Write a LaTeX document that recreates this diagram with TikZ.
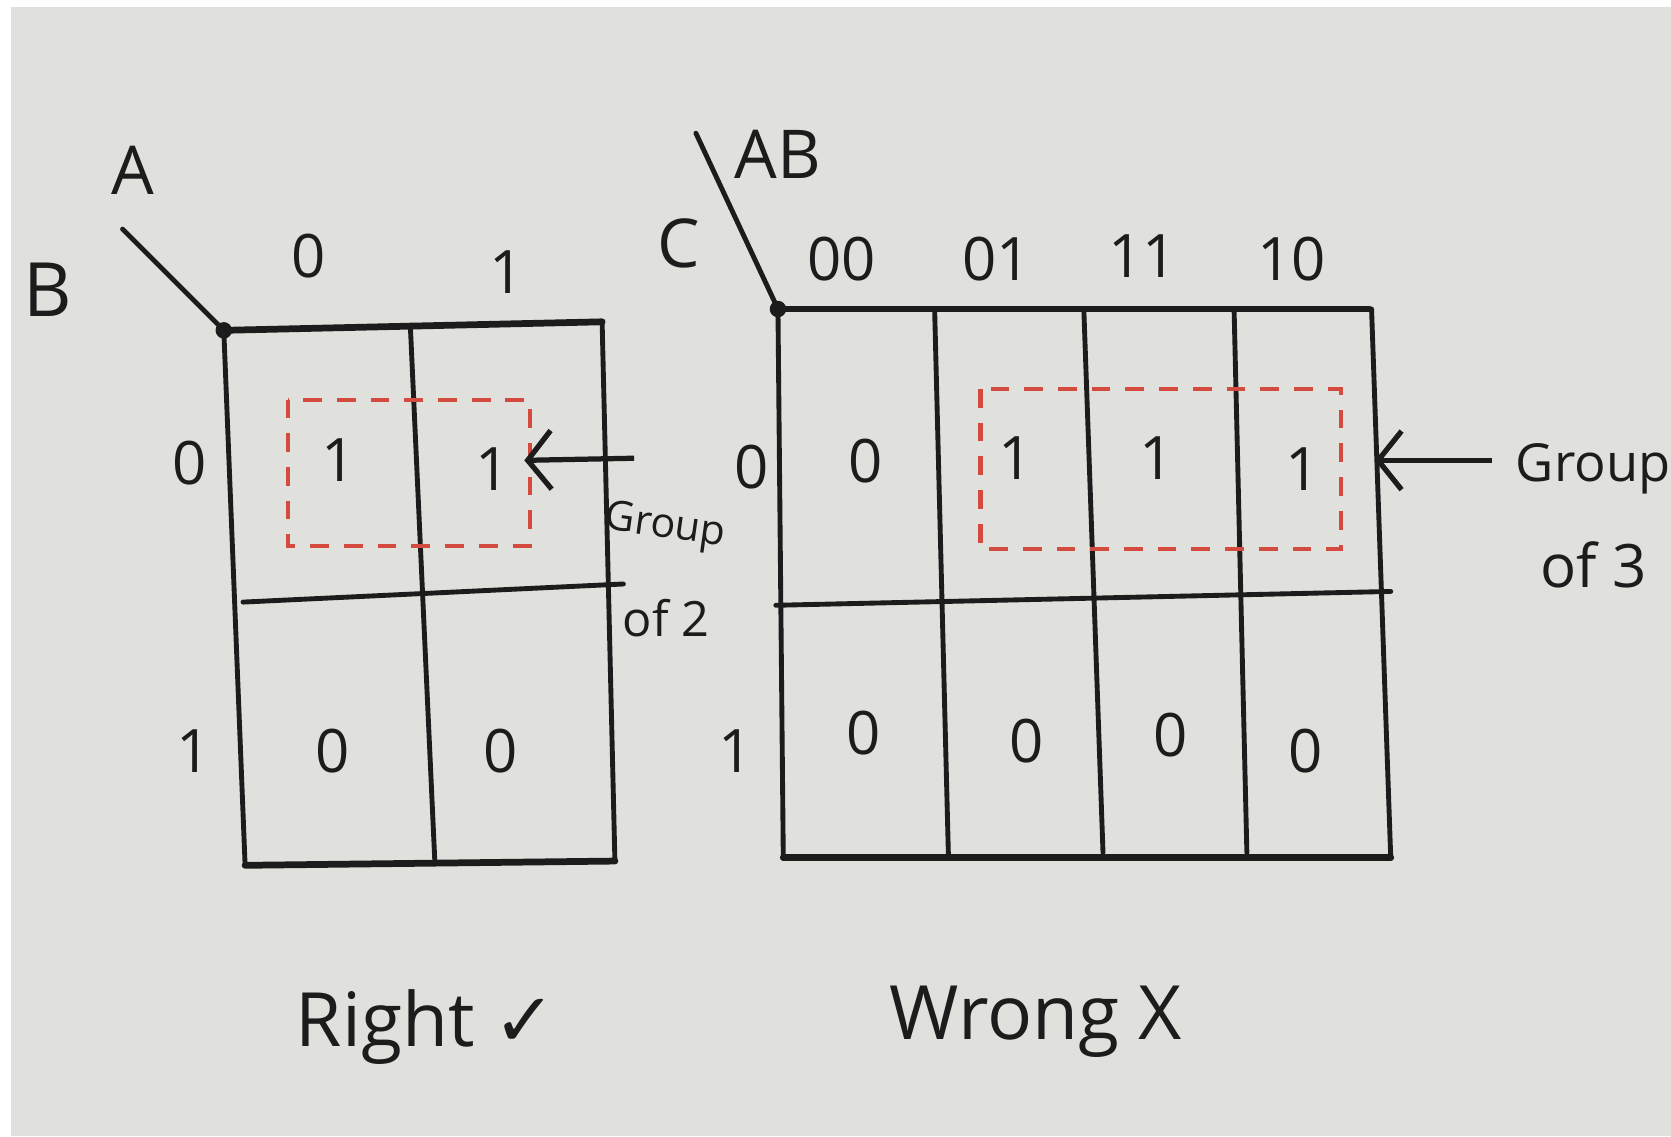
\documentclass[tikz,border=0pt]{standalone}
\usepackage{fontspec}
\setmainfont{Open Sans}
\newfontfamily\symbolfont{DejaVu Sans}
\usetikzlibrary{arrows.meta}
\definecolor{paper}{RGB}{224,224,220}
\definecolor{pen}{RGB}{28,28,28}
\definecolor{redpen}{RGB}{212,74,62}

\begin{document}
\begin{tikzpicture}[
  rule/.style={draw=pen,line width=1.3pt,line cap=round},
  frame/.style={draw=pen,line width=1.8pt,line cap=round},
  digit/.style={text=pen,font=\fontsize{16}{18}\selectfont},
  var/.style={text=pen,font=\fontsize{18}{20}\selectfont},
  note/.style={text=pen,font=\fontsize{14}{16}\selectfont},
  caption/.style={text=pen,font=\fontsize{20}{24}\selectfont,anchor=base},
  grp/.style={draw=redpen,line width=1.1pt,dash pattern=on 5pt off 4pt},
  pointer/.style={draw=pen,line width=1.4pt,-{Straight Barb[length=2.2mm,width=5.5mm]}}
]
\useasboundingbox (0,0) rectangle (15.68,10.66);
\fill[white] (0,0) rectangle (15.68,10.66);
\fill[paper] (0.10,0) rectangle (15.68,10.59);

% 2-variable map
\coordinate (lcorner) at (2.10,7.56);
\coordinate (lslash) at (1.15,8.51);
\draw[rule] (lslash) -- (lcorner);
\fill[pen] (lcorner) circle (2.2pt);
\draw[frame] (lcorner) -- (5.65,7.64);
\draw[frame] (2.30,2.54) -- (5.77,2.58);
\draw[rule] (lcorner) -- (2.30,2.54);
\draw[rule] (3.85,7.61) -- (4.08,2.58);
\draw[rule] (5.65,7.64) -- (5.77,2.58);
\draw[rule] (2.28,5.01) -- (5.85,5.18);
  \node[var] (la) at (1.25,9.06) {A};
  \node[var,font=\fontsize{20}{22}\selectfont] (lb) at (0.45,7.94) {B};
  \node[digit] (lc0) at (2.90,8.26) {0};
  \node[digit] (lc1) at (4.75,8.11) {1};
  \node[digit] (lr0) at (1.78,6.31) {0};
  \node[digit] (lr1) at (1.82,3.61) {1};
  \node[digit] (l00) at (3.18,6.34) {1};
  \node[digit] (l01) at (4.62,6.26) {1};
  \node[digit] (l10) at (3.12,3.61) {0};
  \node[digit] (l11) at (4.70,3.61) {0};
  \draw[grp] (2.70,6.91) rectangle (4.97,5.54);
  \coordinate (lhead) at (4.92,6.34);
  \coordinate (ltail) at (5.95,6.36);
  \draw[pointer] (ltail) -- (lhead);
  \node[note,font=\fontsize{11}{13}\selectfont,rotate=-8] (lgroup) at (6.24,5.71) {Group};
  \node[note,font=\fontsize{13}{15}\selectfont] (lof) at (6.25,4.86) {of 2};

% 3-variable map
\coordinate (rcorner) at (7.30,7.76);
\coordinate (rslash) at (6.53,9.41);
\draw[rule] (rslash) -- (rcorner);
\fill[pen] (rcorner) circle (2.2pt);
\draw[frame] (rcorner) -- (12.85,7.76);
\draw[frame] (7.35,2.61) -- (13.05,2.61);
\draw[rule] (rcorner) -- (7.35,2.61);
\draw[rule] (8.77,7.76) -- (8.90,2.61);
\draw[rule] (10.17,7.76) -- (10.35,2.66);
\draw[rule] (11.58,7.76) -- (11.70,2.66);
\draw[rule] (12.87,7.76) -- (13.05,2.61);
\draw[rule] (7.28,4.98) -- (13.05,5.11);
  \node[var] (rab) at (7.30,9.21) {AB};
  \node[var] (rc) at (6.37,8.38) {C};
  \node[digit] (rc00) at (7.90,8.23) {00};
  \node[digit] (rc01) at (9.35,8.23) {01};
  \node[digit] (rc11) at (10.72,8.26) {11};
  \node[digit] (rc10) at (12.12,8.23) {10};
  \node[digit] (rr0) at (7.05,6.28) {0};
  \node[digit] (rr1) at (6.90,3.61) {1};
  \node[digit] (r000) at (8.12,6.33) {0};
  \node[digit] (r001) at (9.53,6.36) {1};
  \node[digit] (r011) at (10.85,6.36) {1};
  \node[digit] (r010) at (12.22,6.26) {1};
  \node[digit] (r100) at (8.10,3.78) {0};
  \node[digit] (r101) at (9.63,3.71) {0};
  \node[digit] (r111) at (10.98,3.76) {0};
  \node[digit] (r110) at (12.25,3.61) {0};
  \draw[grp] (9.20,7.01) rectangle (12.58,5.51);
  \coordinate (rhead) at (12.90,6.34);
  \coordinate (rtail) at (14.00,6.34);
  \draw[pointer] (rtail) -- (rhead);
  \node[note] (rgroup) at (14.95,6.26) {Group};
  \node[note,font=\fontsize{16}{18}\selectfont] (rof) at (14.95,5.36) {of 3};

\node[caption] (right) at (4.00,0.84) {Right {\symbolfont ✓}};
\node[caption] (wrong) at (9.72,0.91) {Wrong X};
\end{tikzpicture}
\end{document}
